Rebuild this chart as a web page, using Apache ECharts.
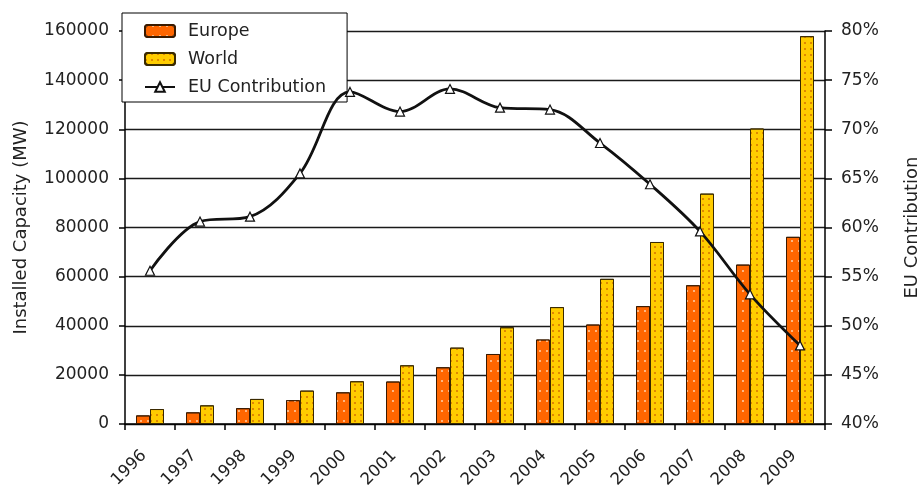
<!DOCTYPE html>
<html>
<head>
<meta charset="utf-8">
<script src="https://cdn.jsdelivr.net/npm/echarts@6/dist/echarts.min.js"></script>
<style>
  html, body { margin: 0; padding: 0; background: #ffffff; }
  #chart { width: 922px; height: 488px; }
</style>
</head>
<body>
<div id="chart"></div>
<script>
// Installed wind capacity (MW) and the European share of the world total
const years = ['1996', '1997', '1998', '1999', '2000', '2001', '2002', '2003', '2004', '2005', '2006', '2007', '2008', '2009'];
const europeMW = [3500, 4750, 6450, 9700, 12900, 17300, 23100, 28500, 34400, 40500, 48000, 56500, 64900, 76200];
const worldMW = [6100, 7600, 10200, 13600, 17400, 23900, 31100, 39400, 47600, 59100, 74100, 93800, 120300, 157900];
const euContributionPct = [55.6, 60.6, 61.1, 65.5, 73.8, 71.8, 74.1, 72.2, 72.0, 68.6, 64.4, 59.6, 53.2, 48.0];
const capacityTicks = { min: 0, max: 160000, interval: 20000 };
const shareTicks = { min: 40, max: 80, interval: 5 };

const FONT = 'DejaVu Sans, Liberation Sans, sans-serif';
const TEXT = '#222222';

const chart = echarts.init(document.getElementById('chart'), null, { renderer: 'canvas' });

chart.setOption({
  backgroundColor: '#ffffff',
  animation: false,
  textStyle: { fontFamily: FONT, color: TEXT },
  grid: {
    left: 125, right: 97, top: 31, bottom: 64,
    containLabel: false,
    outerBoundsMode: 'none'
  },
  legend: {
    orient: 'vertical',
    left: 122,
    top: 13,
    backgroundColor: '#ffffff',
    borderColor: '#000000',
    borderWidth: 1,
    borderRadius: 0,
    padding: [9, 21, 6, 22],
    itemWidth: 30,
    itemHeight: 12,
    itemGap: 10,
    textStyle: { fontFamily: FONT, fontSize: 17.5, color: TEXT, padding: [0, 0, 0, 8] },
    data: ['Europe', 'World', 'EU Contribution']
  },
  xAxis: {
    type: 'category',
    data: years,
    boundaryGap: true,
    axisLine: { lineStyle: { color: '#000000', width: 1.5 } },
    axisTick: { show: true, length: 6, inside: false, lineStyle: { color: '#000000', width: 1.5 } },
    axisLabel: {
      rotate: 45, margin: 35, fontSize: 16.5, color: TEXT, fontFamily: FONT, interval: 0,
      verticalAlign: 'bottom'
    }
  },
  yAxis: [
    {
      type: 'value',
      min: capacityTicks.min,
      max: capacityTicks.max,
      interval: capacityTicks.interval,
      name: 'Installed Capacity (MW)',
      nameLocation: 'middle',
      nameRotate: 90,
      nameGap: 95,
      nameTextStyle: { fontSize: 18, color: TEXT, fontFamily: FONT },
      axisLine: { show: true, lineStyle: { color: '#000000', width: 1.5 } },
      axisTick: { show: true, length: 6, lineStyle: { color: '#000000', width: 1.5 } },
      axisLabel: {
        margin: 16, fontSize: 17, color: TEXT, fontFamily: FONT,
        formatter: (v) => String(v)
      },
      splitLine: { show: true, lineStyle: { color: '#1a1a1a', width: 1.3 } }
    },
    {
      type: 'value',
      position: 'right',
      min: shareTicks.min,
      max: shareTicks.max,
      interval: shareTicks.interval,
      name: 'EU Contribution',
      nameLocation: 'middle',
      nameRotate: 90,
      nameGap: 78,
      nameTextStyle: { fontSize: 18, color: TEXT, fontFamily: FONT },
      axisLine: { show: true, lineStyle: { color: '#000000', width: 1.5 } },
      axisTick: { show: true, length: 7, lineStyle: { color: '#000000', width: 1.5 } },
      axisLabel: { margin: 16, fontSize: 17, color: TEXT, fontFamily: FONT, formatter: '{value}%' },
      splitLine: { show: false }
    }
  ],
  series: [
    {
      name: 'Europe',
      type: 'bar',
      yAxisIndex: 0,
      data: europeMW,
      barWidth: 14,
      barGap: '0%',
      itemStyle: {
        color: '#ff6600',
        borderColor: '#3a1a00',
        borderWidth: 1,
        decal: {
          symbol: 'rect',
          symbolSize: 1,
          dashArrayX: [[1.5, 5]],
          dashArrayY: [1.5, 8],
          color: 'rgba(255, 210, 170, 0.75)'
        }
      },
      z: 2
    },
    {
      name: 'World',
      type: 'bar',
      yAxisIndex: 0,
      data: worldMW,
      barWidth: 14,
      barGap: '0%',
      itemStyle: {
        color: '#ffcc00',
        borderColor: '#3a2a00',
        borderWidth: 1,
        decal: {
          symbol: 'rect',
          symbolSize: 1,
          dashArrayX: [[1.5, 4]],
          dashArrayY: [1.5, 4],
          color: 'rgba(200, 90, 0, 0.6)'
        }
      },
      z: 2
    },
    {
      name: 'EU Contribution',
      type: 'line',
      yAxisIndex: 1,
      data: euContributionPct,
      smooth: 0.35,
      symbol: 'triangle',
      symbolSize: 9,
      showAllSymbol: true,
      lineStyle: { color: '#111111', width: 2.8 },
      itemStyle: { color: '#ffffff', borderColor: '#111111', borderWidth: 1.2 },
      z: 5
    }
  ]
});
</script>
</body>
</html>
